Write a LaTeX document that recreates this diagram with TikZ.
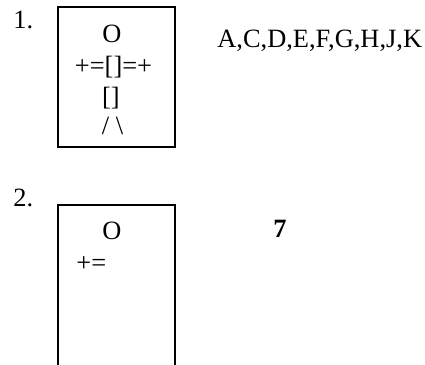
\documentclass[tikz,border=0pt]{standalone}
\usepackage{fontspec}
\setmainfont{Liberation Serif}
\usetikzlibrary{positioning}

\begin{document}
\begin{tikzpicture}[x=0.5pt, y=-0.5pt,
    every node/.style={inner sep=0pt, font=\fontsize{13.2}{15}\selectfont},
    framebox/.style={draw, line width=1pt}]
    \useasboundingbox (0,0) rectangle (425,365);
    % first figure
    \node[anchor=west] (num1) at (13,20) {1.};
    \draw[framebox] (58,7) rectangle (175,147);
    \node (head1) at (112,33.5) {O};
    \node (arms1) at (113.5,67) {+=[]=+};
    \node (body1) at (111,98.5) {[]};
    \node (legs1) at (112.5,126) {/ \textbackslash};
    \node[anchor=base west] (ans1) at (217,47) {A,C,D,E,F,G,H,J,K};
    % second figure
    \node[anchor=west] (num2) at (13,198) {2.};
    \draw[framebox] (58,365) -- (58,205) -- (175,205) -- (175,365);
    \node (head2) at (112,231) {O};
    \node[anchor=west] (arms2) at (76,264) {+=};
    \node[anchor=base west, font=\fontsize{13.2}{15}\selectfont\bfseries] (ans2) at (273,237) {7};
\end{tikzpicture}
\end{document}
